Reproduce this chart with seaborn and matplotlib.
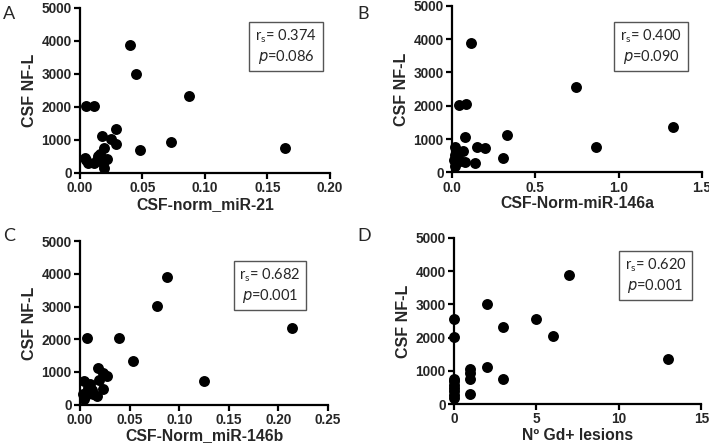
import numpy as np
import pandas as pd
import matplotlib
matplotlib.use("Agg")
import matplotlib.pyplot as plt
import seaborn as sns

# Panel A: CSF-norm_miR-21 vs CSF NF-L
a_x = [0.040, 0.0445, 0.087, 0.0048, 0.0112, 0.0288, 0.018, 0.0245, 0.029, 0.048, 0.073, 0.164,
       0.019, 0.016, 0.0147, 0.0037, 0.0048, 0.0067, 0.0115, 0.0219, 0.0187, 0.0192, 0.0133]
a_y = [3890, 3010, 2320, 2040, 2020, 1333, 1110, 1040, 880, 707, 940, 757,
       757, 586, 505, 455, 404, 303, 303, 434, 303, 150, 404]

# Panel B: CSF-Norm-miR-146a
b_x = [0.116, 0.744, 1.324, 0.866, 0.044, 0.084, 0.080, 0.330, 0.150, 0.196, 0.308, 0.136,
       0.020, 0.066, 0.016, 0.030, 0.050, 0.080, 0.020, 0.010]
b_y = [3890, 2570, 1360, 760, 2030, 2050, 1070, 1130, 770, 740, 440, 290,
       760, 630, 520, 470, 330, 320, 190, 370]

# Panel C: CSF-Norm_miR-146b
c_x = [0.0879, 0.0772, 0.214, 0.0067, 0.0396, 0.053, 0.0178, 0.1245, 0.0235, 0.0275, 0.0195,
       0.0228, 0.004, 0.010, 0.0084, 0.006, 0.0134, 0.0174, 0.0044, 0.0034, 0.0117]
c_y = [3900, 3020, 2340, 2050, 2030, 1350, 1120, 725, 970, 890, 765,
       490, 735, 633, 520, 306, 316, 276, 163, 337, 440]

# Panel D: No Gd+ lesions
d_x = [7, 2, 5, 3, 6, 13, 2, 3, 1, 1, 1, 1, 0, 0, 0, 0, 0, 0, 0, 0, 0]
d_y = [3875, 3010, 2570, 2330, 2050, 1355, 1125, 763, 1064, 944, 743, 301,
       2570, 2030, 760, 680, 580, 480, 380, 280, 180]

panels = [
    ("A", a_x, a_y, "CSF-norm_miR-21", [0, 0.05, 0.10, 0.15, 0.20], ["0.00", "0.05", "0.10", "0.15", "0.20"], "0.374", "0.086"),
    ("B", b_x, b_y, "CSF-Norm-miR-146a", [0, 0.5, 1.0, 1.5], ["0.0", "0.5", "1.0", "1.5"], "0.400", "0.090"),
    ("C", c_x, c_y, "CSF-Norm_miR-146b", [0, 0.05, 0.10, 0.15, 0.20, 0.25], ["0.00", "0.05", "0.10", "0.15", "0.20", "0.25"], "0.682", "0.001"),
    ("D", d_x, d_y, "N\u00ba Gd+ lesions", [0, 5, 10, 15], ["0", "5", "10", "15"], "0.620", "0.001"),
]

# axes rectangles [left, bottom, width, height] and stats box centres (fig fraction)
rects = [
    [0.1128, 0.6095, 0.3526, 0.3725],
    [0.6375, 0.611, 0.3526, 0.376],
    [0.1128, 0.0865, 0.350, 0.369],
    [0.6403, 0.088, 0.349, 0.375],
]
boxes = [(286 / 709, 1 - 46.5 / 443), (651 / 709, 1 - 46.5 / 443),
         (270 / 709, 1 - 285.5 / 443), (655.5 / 709, 1 - 275.5 / 443)]
letters = [(3 / 709, 1 - 14 / 443), (357 / 709, 1 - 14 / 443),
           (3 / 709, 1 - 236 / 443), (357 / 709, 1 - 236 / 443)]

sns.set_style("ticks")
plt.rcParams['font.family'] = ['Liberation Sans', 'DejaVu Sans']

fig = plt.figure(figsize=(7.09, 4.43), dpi=100)

for i, (letter, xs, ys, xlabel, xt, xtl, rs, p) in enumerate(panels):
    ax = fig.add_axes(rects[i])
    df = pd.DataFrame({"x": xs, "y": ys})
    sns.scatterplot(data=df, x="x", y="y", ax=ax, color="black", s=62,
                    edgecolor="black", linewidth=0, clip_on=False, zorder=3)
    ax.set_xlim(xt[0], xt[-1])
    ax.set_ylim(0, 5000)
    ax.set_xticks(xt)
    ax.set_xticklabels(xtl)
    ax.set_yticks([0, 1000, 2000, 3000, 4000, 5000])
    ax.set_yticklabels(["0", "1000", "2000", "3000", "4000", "5000"])
    for lab in ax.get_xticklabels() + ax.get_yticklabels():
        lab.set_fontweight("bold")
        lab.set_fontsize(9.8)
    ax.tick_params(width=1.6, length=4, pad=2, color="black")
    ax.set_xlabel(xlabel, fontsize=11.3, fontweight="bold", labelpad=1)
    ax.set_ylabel("CSF NF-L", fontsize=11.5, fontweight="bold", labelpad=3)
    sns.despine(ax=ax)
    for side in ["left", "bottom"]:
        ax.spines[side].set_linewidth(1.6)
        ax.spines[side].set_color("black")

    fig.text(letters[i][0], letters[i][1], letter, fontsize=13,
             family=["Lato", "DejaVu Sans"], va="center", ha="left")
    fig.text(boxes[i][0], boxes[i][1],
             "r$_\\mathregular{s}$= " + rs + "\n$\\it{p}$=" + p,
             fontsize=10.5, family=["Lato", "DejaVu Sans"], ha="center", va="center",
             linespacing=1.2,
             bbox=dict(boxstyle="square,pad=0.4", facecolor="white",
                       edgecolor="#555555", linewidth=1.0))

fig.savefig("out.png", dpi=100)
